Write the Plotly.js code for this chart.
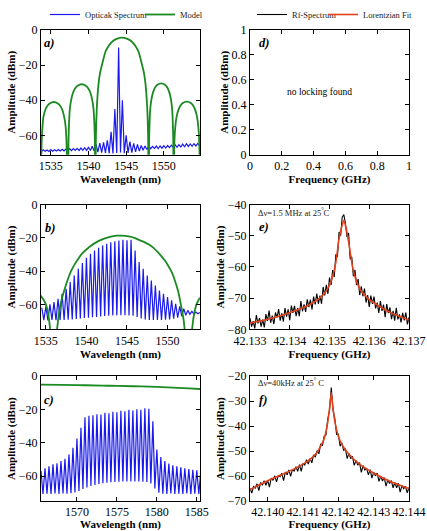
<!DOCTYPE html>
<html>
<head>
<meta charset="utf-8">
<script src="https://cdn.plot.ly/plotly-3.0.1.min.js"></script>
<style>
  html, body { margin: 0; padding: 0; background: #fff; }
  #plot { width: 427px; height: 531px; }
</style>
</head>
<body>
<div id="plot"></div>
<script>
// ---------- a) optical spectrum, sampled every 0.25 nm ----------
const optA_start = 1533.75, optA_step = 0.25;
const optA_db = [
  -69.2, -68.2, -69.1, -68.3, -69.2, -68.1, -69.0, -68.2, -68.9, -68.0,
  -68.9, -67.9, -68.8, -67.8, -68.8, -67.6, -68.7, -67.5, -68.6, -67.4,
  -68.6, -67.2, -68.5, -67.0, -68.5, -66.8, -68.6, -66.2, -68.9, -65.0,
  -69.5, -64.4, -69.8, -64.0, -70.0, -62.8, -70.2, -58.0, -70.3, -45.0,
  -70.0, -10.0, -69.8, -40.0, -70.2, -60.0, -70.0, -63.5, -69.8, -64.6,
  -69.4, -65.2, -69.0, -65.8, -68.5, -66.0, -68.0, -66.2, -67.6, -66.3,
  -67.4, -66.1, -67.5, -66.0, -67.3, -65.9, -67.2, -65.8, -67.0, -65.6,
  -66.9, -65.4, -66.8, -65.3, -66.6, -65.0, -66.5, -64.8, -66.3, -64.9,
  -66.2, -64.7, -66.0, -64.6, -65.9
];
// a) model
const modelA_wl = [
  1533.65, 1533.73, 1533.8, 1533.9, 1534.0, 1534.23, 1534.5, 1534.86, 1535.4, 1535.94, 1536.3, 1536.57, 1536.8, 1536.97, 1537.07, 1537.15, 1537.3,
  1537.35, 1537.43, 1537.53, 1537.7, 1537.93, 1538.2, 1538.56, 1539.1, 1539.64, 1540.0, 1540.27, 1540.5, 1540.67, 1540.77, 1540.85, 1540.9,
  1540.99, 1541.11, 1541.33, 1541.54, 1541.82, 1542.25, 1542.67, 1543.21, 1543.74, 1544.45, 1545.16, 1545.69, 1546.23, 1546.65, 1547.08, 1547.36, 1547.57, 1547.79, 1547.91, 1548.0,
  1548.05, 1548.12, 1548.21, 1548.36, 1548.58, 1548.82, 1549.15, 1549.65, 1550.15, 1550.48, 1550.72, 1550.94, 1551.09, 1551.18, 1551.25, 1551.3,
  1551.35, 1551.42, 1551.53, 1551.68, 1551.91, 1552.17, 1552.52, 1553.05, 1553.58, 1553.93, 1554.19, 1554.42, 1554.57, 1554.68, 1554.75, 1554.8
];
const modelA_db = [
  -95, -73, -62, -55, -50, -46, -43.5, -41.8, -41.0, -41.8, -43.5, -46, -50, -55, -62, -73, -95,
  -62.9, -51.9, -44.9, -39.9, -35.9, -33.4, -31.7, -30.9, -31.7, -33.4, -35.9, -39.9, -44.9, -51.9, -62.9, -95,
  -59.4, -44, -30.8, -24.4, -19.4, -12.4, -9.1, -6.4, -5.1, -4.4, -5.1, -6.4, -9.1, -12.4, -19.4, -24.4, -30.8, -44, -59.4, -95,
  -62.4, -51.4, -44.4, -39.4, -35.4, -32.9, -31.2, -30.4, -31.2, -32.9, -35.4, -39.4, -44.4, -51.4, -62.4, -95,
  -72.8, -61.8, -54.8, -49.8, -45.8, -43.3, -41.6, -40.8, -41.6, -43.3, -45.8, -49.8, -54.8, -61.8, -72.8, -95
];

// ---------- b) comb lines every 0.5 nm: peak levels and floor between lines ----------
const combB_start = 1534.5, combB_spacing = 0.5;
const combB_peak = [
  -62.0, -61.2, -60.0, -58.6, -56.6, -53.6, -50.6, -46.6, -42.6, -38.6,
  -35.2, -32.0, -29.6, -27.6, -26.0, -24.6, -23.6, -22.6, -22.0, -21.6,
  -21.2, -21.4, -21.2, -27.6, -34.6, -38.6, -42.6, -45.6, -48.6, -51.6,
  -53.6, -55.6, -57.6, -59.6, -61.2, -62.6, -63.6, -64.2, -64.6, -64.8
];
const combB_floor = [
  -69.5, -69.6, -69.4, -69.5, -69.3, -69.4, -69.2, -69.0, -68.8, -68.5,
  -68.2, -68.0, -67.7, -67.5, -67.2, -67.0, -66.8, -66.7, -66.6, -66.5,
  -66.5, -66.6, -66.8, -67.5, -68.5, -69.0, -69.3, -69.4, -69.4, -69.3,
  -69.2, -69.0, -68.6, -68.0, -67.2, -66.5, -66.0, -65.8, -65.6
];
const modelB_wl = [
  1534.3, 1534.7, 1535.0, 1535.3, 1535.55, 1535.9,
  1536.35, 1536.6, 1536.9, 1537.3, 1537.7, 1538.1, 1538.6, 1539.0, 1539.4, 1540.0, 1540.6, 1541.2, 1541.8,
  1542.5, 1543.2, 1543.8, 1544.3, 1544.8, 1545.4, 1546.0, 1546.6, 1547.2, 1547.6, 1548.2, 1548.8, 1549.3,
  1549.7, 1550.1, 1550.5, 1550.9, 1551.3, 1551.7, 1552.0, 1552.2, 1552.6,
  1553.0, 1553.2, 1553.5, 1553.8, 1554.0
];
const modelB_db = [
  -54.5, -57.0, -60.0, -66.0, -76.0, -95,
  -76, -66, -58, -51, -45, -40, -35.5, -32.5, -29.8, -27.0, -24.6, -22.7, -21.2,
  -20.0, -19.1, -18.7, -18.6, -18.8, -19.3, -20.2, -21.5, -22.7, -23.7, -25.7, -28.6, -31.4,
  -33.8, -36.9, -40.5, -45.6, -52.0, -61.6, -70, -80, -95,
  -76, -68, -61, -57.5, -56
];

// ---------- c) comb lines every 0.5 nm ----------
const combC_start = 1565.5, combC_spacing = 0.5;
const combC_peak = [
  -57.0, -55.3, -54.2, -53.0, -52.4, -51.0, -49.6, -47.0, -43.0, -37.5,
  -31.0, -24.6, -23.8, -23.5, -22.8, -23.0, -21.9, -22.2, -21.3, -21.6,
  -20.8, -21.0, -20.2, -20.6, -19.8, -20.1, -19.3, -19.6, -27.0, -44.0,
  -48.5, -51.0, -52.5, -53.5, -54.2, -54.8, -55.3, -55.8, -56.2, -56.6,
  -57.0
];
const combC_floor = [
  -70.8, -70.6, -70.8, -70.5, -70.7, -70.4, -70.6, -70.3, -69.8, -69.0,
  -67.8, -66.8, -66.0, -65.3, -64.8, -64.3, -64.0, -63.7, -63.5, -63.4,
  -63.3, -63.3, -63.2, -63.2, -63.3, -63.4, -63.6, -64.5, -67.5, -70.0,
  -70.6, -70.7, -70.5, -70.7, -70.6, -70.8, -70.5, -70.7, -70.6, -70.8
];
const modelC_wl = [1565.5, 1568, 1571, 1574, 1577, 1580, 1582, 1584, 1585.5];
const modelC_db = [-5.0, -5.2, -5.4, -5.7, -6.0, -6.4, -6.8, -7.3, -7.7];

// ---------- e) RF beat note, 40 kHz bins ----------
const rfE_start = 42.1330, rfE_step = 0.00004;
const rfE_db = [
  -76.4, -79.1, -77.4, -79.7, -75.4, -78.1, -76.4, -79.1, -76.9, -79.4,
  -75.1, -77.3, -74.0, -77.9, -75.6, -78.3, -74.6, -76.2, -73.5, -77.2,
  -74.9, -77.5, -73.2, -75.9, -73.6, -77.1, -72.4, -74.7, -72.5, -75.8,
  -73.2, -75.8, -70.9, -74.2, -72.0, -74.4, -70.4, -72.9, -70.5, -73.6,
  -69.5, -72.0, -68.5, -71.8, -69.2, -71.8, -66.4, -69.1, -65.7, -68.6,
  -63.4, -65.8, -61.0, -63.2, -55.9, -56.8, -48.8, -50.0, -44.0, -43.2,
  -46.0, -50.4, -49.1, -57.5, -56.7, -63.0, -60.9, -65.8, -63.9, -69.0,
  -66.2, -69.4, -66.9, -71.4, -69.0, -72.8, -69.2, -71.8, -69.5, -73.3,
  -71.4, -74.7, -70.9, -74.1, -72.1, -76.1, -71.9, -74.8, -73.0, -76.7,
  -74.1, -77.2, -73.1, -76.8, -75.2, -77.8, -74.7, -77.1, -74.6, -78.4,
  -76.2
];
const fitE_ghz = [42.1330, 42.1334, 42.1338, 42.1341, 42.1343, 42.1345, 42.1347, 42.1348, 42.1349, 42.1350,
  42.13508, 42.13516, 42.13524, 42.1353, 42.13536, 42.13542, 42.1355, 42.13558, 42.13566, 42.1358,
  42.1360, 42.1362, 42.1364, 42.1366, 42.1368, 42.1370];
const fitE_db = [-78.0, -76.9, -75.5, -74.2, -73.2, -72.1, -70.5, -69.4, -68.0, -65.8,
  -63.0, -58.5, -51.0, -47.5, -45.0, -47.6, -53.5, -60.0, -63.9, -67.8,
  -70.5, -72.2, -73.7, -75.0, -76.0, -77.0];

// ---------- f) RF beat note, 50 kHz bins ----------
const rfF_start = 42.1395, rfF_step = 0.00005;
const rfF_db = [
  -64.9, -66.8, -64.2, -64.8, -63.1, -65.8, -62.6, -63.7, -61.9, -63.7,
  -61.7, -64.4, -60.8, -61.7, -59.9, -62.3, -59.8, -60.3, -58.9, -61.8,
  -58.4, -59.5, -57.5, -60.1, -57.3, -58.0, -56.3, -58.1, -55.4, -58.1,
  -54.9, -55.6, -53.4, -55.2, -52.9, -54.7, -51.5, -52.4, -49.8, -51.1,
  -47.1, -47.8, -44.0, -43.5, -37.3, -33.8, -24.5, -33.6, -36.9, -43.3,
  -43.2, -48.0, -46.7, -49.8, -49.0, -53.0, -50.9, -53.0, -52.1, -55.7,
  -53.7, -55.6, -54.6, -58.5, -55.8, -57.6, -56.8, -59.5, -57.4, -60.8,
  -58.5, -59.9, -58.8, -62.1, -60.0, -62.0, -60.6, -64.0, -61.5, -63.0,
  -61.8, -64.7, -62.6, -64.7, -62.9, -66.4, -63.8, -65.1, -64.1, -66.7,
  -64.6
];
const fitF_ghz = [42.1395, 42.1400, 42.1405, 42.1409, 42.1412, 42.1414, 42.1415, 42.1416, 42.1417, 42.14175,
  42.1418, 42.14185, 42.1419, 42.1420, 42.1421, 42.1423, 42.1426, 42.1430, 42.1435, 42.1440];
const fitF_db = [-65.4, -61.9, -58.8, -56.0, -53.3, -50.5, -48.0, -45.0, -38.5, -33.0,
  -26.5, -33.0, -38.0, -44.0, -47.3, -51.3, -55.2, -58.8, -62.4, -65.0];

// ---------- helpers ----------
const FONT = 'Liberation Serif';
const BLUE = '#1a1aee', GREEN = '#1b8a22', BLACK = '#000000', RED = '#e2421c';

function grid(start, step, n) {
  const out = [];
  for (let i = 0; i < n; i++) out.push(+(start + i * step).toFixed(6));
  return out;
}
// comb: alternate line peak and the floor half a spacing further on
function combTrace(start, spacing, peaks, floors) {
  const x = [], y = [];
  for (let k = 0; k < peaks.length; k++) {
    x.push(start + k * spacing); y.push(peaks[k]);
    if (k < floors.length) { x.push(start + (k + 0.5) * spacing); y.push(floors[k]); }
  }
  return { x, y };
}

const cB = combTrace(combB_start, combB_spacing, combB_peak, combB_floor);
const cC = combTrace(combC_start, combC_spacing, combC_peak, combC_floor);

const traces = [
  { x: grid(optA_start, optA_step, optA_db.length), y: optA_db, xaxis: 'x', yaxis: 'y', mode: 'lines',
    line: { color: BLUE, width: 1.2 }, name: 'Opticak Spectrum', legend: 'legend' },
  { x: modelA_wl, y: modelA_db, xaxis: 'x', yaxis: 'y', mode: 'lines',
    line: { color: GREEN, width: 1.8, shape: 'spline', smoothing: 0.5 }, name: 'Model', legend: 'legend2' },
  { x: [], y: [], xaxis: 'x2', yaxis: 'y2', mode: 'lines', showlegend: false, line: { color: BLACK, width: 0.8 } },
  { x: cB.x, y: cB.y, xaxis: 'x3', yaxis: 'y3', mode: 'lines', line: { color: BLUE, width: 1.2 }, showlegend: false },
  { x: modelB_wl, y: modelB_db, xaxis: 'x3', yaxis: 'y3', mode: 'lines',
    line: { color: GREEN, width: 1.8, shape: 'spline', smoothing: 0.5 }, showlegend: false },
  { x: grid(rfE_start, rfE_step, rfE_db.length), y: rfE_db, xaxis: 'x4', yaxis: 'y4', mode: 'lines',
    line: { color: BLACK, width: 1.1 }, name: 'Rf-Spectrum', legend: 'legend3' },
  { x: fitE_ghz, y: fitE_db, xaxis: 'x4', yaxis: 'y4', mode: 'lines',
    line: { color: RED, width: 1.6, shape: 'spline', smoothing: 0.4 }, name: 'Lorentzian Fit', legend: 'legend4' },
  { x: cC.x, y: cC.y, xaxis: 'x5', yaxis: 'y5', mode: 'lines', line: { color: BLUE, width: 1.2 }, showlegend: false },
  { x: modelC_wl, y: modelC_db, xaxis: 'x5', yaxis: 'y5', mode: 'lines',
    line: { color: GREEN, width: 1.8, shape: 'spline' }, showlegend: false },
  { x: grid(rfF_start, rfF_step, rfF_db.length), y: rfF_db, xaxis: 'x6', yaxis: 'y6', mode: 'lines',
    line: { color: BLACK, width: 1.1 }, showlegend: false },
  { x: fitF_ghz, y: fitF_db, xaxis: 'x6', yaxis: 'y6', mode: 'lines',
    line: { color: RED, width: 1.6, shape: 'spline', smoothing: 0.4 }, showlegend: false }
];

// plotting area: full width, 504 px tall (bottom 27 px hold the lowest axis titles)
const W = 427, H = 531, MB = 27, HP = H - MB;
const colL = [41 / W, 200 / W], colR = [250 / W, 409 / W];
const row = (top, bottom) => [Math.max(0, 1 - bottom / HP), 1 - top / HP];
const r1 = row(29, 154), r2 = row(204, 329), r3 = row(376, 501);

function axis(domain, anchor, range, title, extra) {
  return Object.assign({
    domain, anchor, range, showgrid: false, zeroline: false, automargin: false,
    showline: true, linecolor: BLACK, linewidth: 1, mirror: 'ticks',
    ticks: 'inside', ticklen: 4, tickcolor: BLACK, tickwidth: 1,
    tickfont: { family: FONT, size: 12, color: BLACK },
    title: { text: '<b>' + title + '</b>', standoff: 0, font: { family: FONT, size: 11, color: BLACK } }
  }, extra || {});
}
const wlTicks = { tickvals: [1535, 1540, 1545, 1550] };
const dbTicks = { tickvals: [-60, -40, -20, 0] };

function legendAt(px) {
  return { x: px / W, y: 1 - 14 / HP, xanchor: 'left', yanchor: 'middle', orientation: 'h',
    bgcolor: 'rgba(0,0,0,0)', borderwidth: 0, font: { family: FONT, size: 8.5, color: '#222' } };
}

function tag(text, xref, yref, fx, fy) {
  return { text: '<b><i>' + text + '</i></b>', xref: xref + ' domain', yref: yref + ' domain', x: fx, y: fy,
    showarrow: false, xanchor: 'center', yanchor: 'middle', font: { family: FONT, size: 12.5, color: BLACK } };
}

const layout = {
  width: W, height: H, margin: { l: 0, r: 0, t: 0, b: MB },
  paper_bgcolor: '#fff', plot_bgcolor: '#fff',
  font: { family: FONT, color: BLACK },
  xaxis: axis(colL, 'y', [1533.7, 1554.8], 'Wavelength (nm)', wlTicks),
  yaxis: axis(r1, 'x', [-71, 0], 'Amplitude (dBm)', dbTicks),
  xaxis2: axis(colR, 'y2', [0, 1], 'Frequency (GHz)', { tickvals: [0, 0.2, 0.4, 0.6, 0.8, 1] }),
  yaxis2: axis(r1, 'x2', [0, 1], 'Amplitude (dBm)', { tickvals: [0, 0.2, 0.4, 0.6, 0.8, 1] }),
  xaxis3: axis(colL, 'y3', [1534.4, 1554.0], 'Wavelength (nm)', wlTicks),
  yaxis3: axis(r2, 'x3', [-75, 0], 'Amplitude (dBm)', dbTicks),
  xaxis4: axis(colR, 'y4', [42.133, 42.137], 'Frequency (GHz)', { tickvals: [42.133, 42.134, 42.135, 42.136, 42.137], tickformat: '.3f' }),
  yaxis4: axis(r2, 'x4', [-80, -40], 'Amplitude (dBm)', { tickvals: [-80, -70, -60, -50, -40] }),
  xaxis5: axis(colL, 'y5', [1565.5, 1585.4], 'Wavelength (nm)', { tickvals: [1570, 1575, 1580, 1585] }),
  yaxis5: axis(r3, 'x5', [-75, 0], 'Amplitude (dBm)', dbTicks),
  xaxis6: axis(colR, 'y6', [42.1395, 42.1440], 'Frequency (GHz)', { tickvals: [42.140, 42.141, 42.142, 42.143, 42.144], tickformat: '.3f' }),
  yaxis6: axis(r3, 'x6', [-70, -20], 'Amplitude (dBm)', { tickvals: [-70, -60, -50, -40, -30, -20] }),
  legend: legendAt(45),
  legend2: legendAt(140),
  legend3: legendAt(252),
  legend4: legendAt(323),
  annotations: [
    tag('a)', 'x', 'y', 0.052, 0.896),
    tag('d)', 'x2', 'y2', 0.088, 0.896),
    tag('b)', 'x3', 'y3', 0.056, 0.81),
    tag('e)', 'x4', 'y4', 0.086, 0.82),
    tag('c)', 'x5', 'y5', 0.052, 0.808),
    tag('f)', 'x6', 'y6', 0.082, 0.81),
    { text: 'no locking found', xref: 'x2', yref: 'y2', x: 0.434, y: 0.504, showarrow: false,
      font: { family: FONT, size: 9.5, color: BLACK } },
    { text: 'Δν=1.5 MHz at 25<sup>°</sup>C', xref: 'x4 domain', yref: 'y4 domain', x: 0.035, y: 0.94,
      xanchor: 'left', yanchor: 'middle', showarrow: false, font: { family: FONT, size: 8.5, color: '#222' } },
    { text: 'Δν=40kHz at 25<sup>°</sup> C', xref: 'x6 domain', yref: 'y6 domain', x: 0.035, y: 0.95,
      xanchor: 'left', yanchor: 'middle', showarrow: false, font: { family: FONT, size: 8.5, color: '#222' } }
  ]
};

Plotly.newPlot('plot', traces, layout, { staticPlot: true, displayModeBar: false });
</script>
</body>
</html>
